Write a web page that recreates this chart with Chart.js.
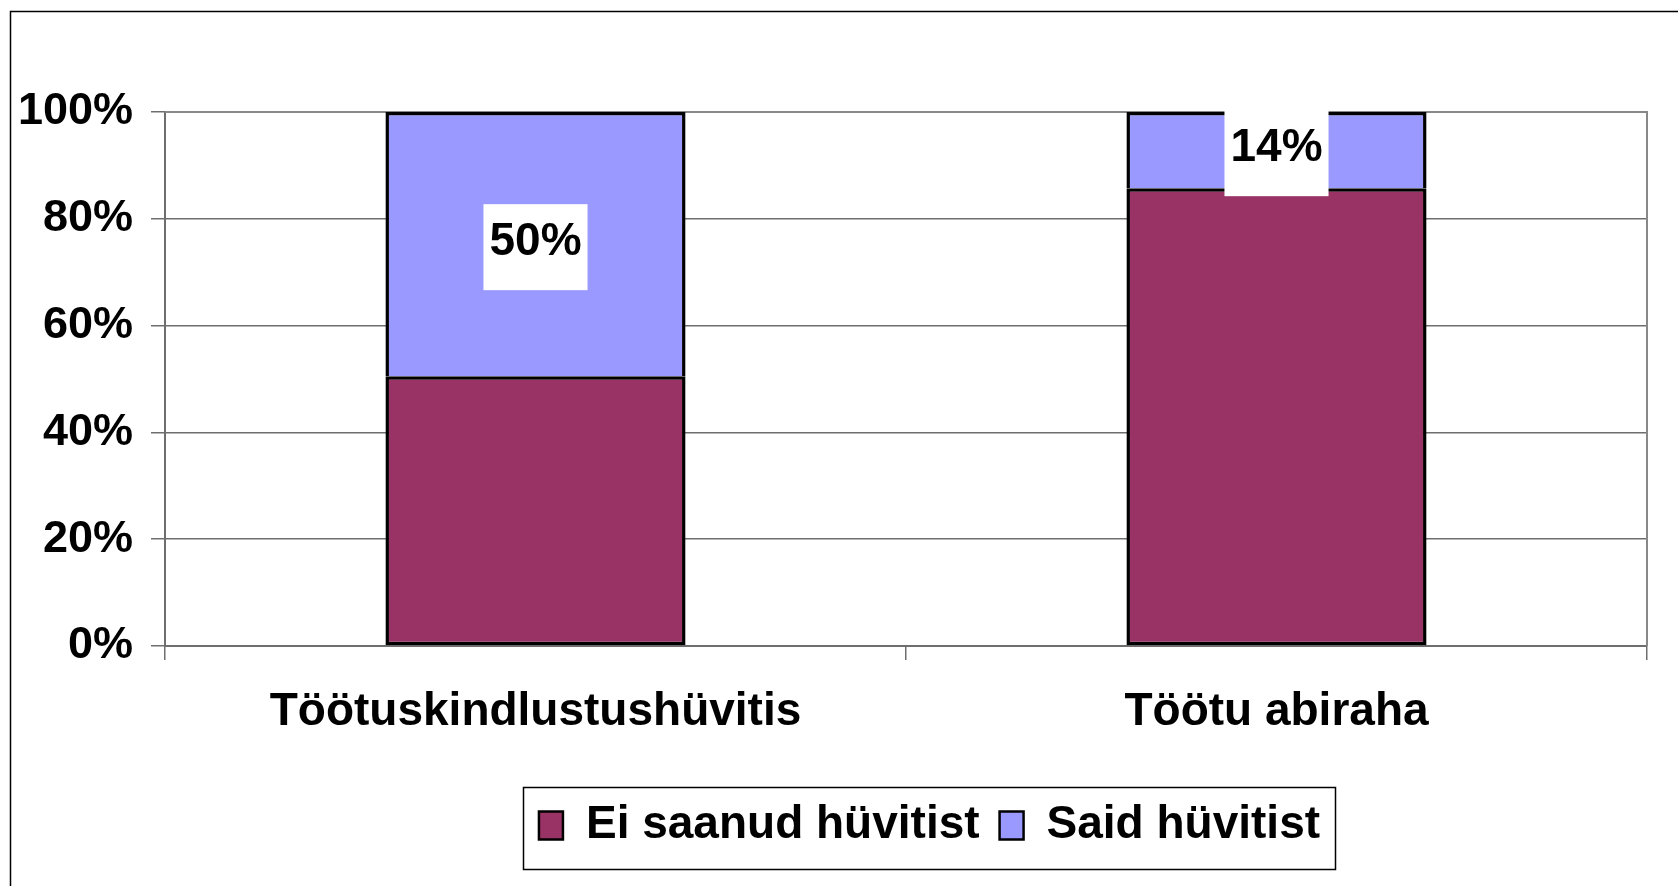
<!DOCTYPE html>
<html><head><meta charset="utf-8">
<script src="https://cdn.jsdelivr.net/npm/chart.js@4.4.1/dist/chart.umd.min.js"></script>
<style>html,body{margin:0;padding:0;background:#fff;} canvas{display:block;}</style>
</head><body>
<canvas id="c" width="1678" height="886"></canvas>
<script>
const categories = ['Töötuskindlustushüvitis', 'Töötu abiraha'];
const seriesNames = ['Ei saanud hüvitist', 'Said hüvitist'];
const eiSaanud = [50.5, 85.7];
const saidHuvitist = [49.5, 14.3];
const yTicks = [0, 20, 40, 60, 80, 100];

const FONT = '"Liberation Sans", Arial, Helvetica, sans-serif';
const colEi = '#993366';
const colSaid = '#9999FF';
const gridCol = '#6e6e6e';
const legendShift = 212;

const framePlugin = {
  id: 'frame',
  beforeDraw(chart) {
    const ctx = chart.ctx;
    ctx.save();
    ctx.fillStyle = '#fff';
    ctx.fillRect(0, 0, chart.width, chart.height);
    ctx.strokeStyle = '#000';
    ctx.lineWidth = 1.5;
    ctx.beginPath();
    ctx.moveTo(10.5, chart.height);
    ctx.lineTo(10.5, 11.5);
    ctx.lineTo(chart.width, 11.5);
    ctx.stroke();
    ctx.restore();
  },
  beforeDatasetsDraw(chart) {
    const a = chart.chartArea, ctx = chart.ctx;
    ctx.save();
    ctx.strokeStyle = '#888';
    ctx.lineWidth = 2;
    ctx.beginPath();
    ctx.moveTo(a.left, a.top);
    ctx.lineTo(a.right, a.top);
    ctx.lineTo(a.right, a.bottom);
    ctx.stroke();
    ctx.restore();
  },
  afterLayout(chart) {
    if (chart.legend) { chart.legend.left += legendShift; }
  },
  afterDraw(chart) {
    const hb = chart.legend && chart.legend.legendHitBoxes;
    if (!hb || !hb.length) return;
    let l = Infinity, r = -Infinity, t = Infinity, b = -Infinity;
    hb.forEach(h => { l = Math.min(l, h.left); r = Math.max(r, h.left + h.width); t = Math.min(t, h.top); b = Math.max(b, h.top + h.height); });
    const ctx = chart.ctx;
    ctx.save();
    ctx.strokeStyle = '#000';
    ctx.lineWidth = 1.5;
    ctx.strokeRect(Math.round(l - 16) + 0.5, Math.round(t - 16) + 0.5, Math.round(r - l + 31), Math.round(b - t + 36));
    ctx.restore();
  }
};

const labelPlugin = {
  id: 'segLabels',
  afterDatasetsDraw(chart) {
    const ctx = chart.ctx;
    const meta = chart.getDatasetMeta(1);
    const vals = chart.data.datasets[1].data;
    meta.data.forEach((bar, i) => {
      const txt = Math.round(vals[i]) + '%';
      const cx = bar.x;
      const cy = (bar.y + bar.base) / 2;
      ctx.save();
      ctx.font = 'bold 46px ' + FONT;
      const w = ctx.measureText(txt).width + 12;
      const h = 86;
      ctx.fillStyle = '#fff';
      ctx.fillRect(cx - w / 2, cy - h / 2 + 3, w, h);
      ctx.fillStyle = '#000';
      ctx.textAlign = 'center';
      ctx.textBaseline = 'middle';
      ctx.fillText(txt, cx, cy - 2);
      ctx.restore();
    });
  }
};

new Chart(document.getElementById('c'), {
  type: 'bar',
  data: {
    labels: categories,
    datasets: [
      { label: seriesNames[0], data: eiSaanud, backgroundColor: colEi, borderColor: '#000', borderWidth: 3.5, borderSkipped: false },
      { label: seriesNames[1], data: saidHuvitist, backgroundColor: colSaid, borderColor: '#000', borderWidth: { top: 3.5, left: 3.5, right: 3.5, bottom: 0 }, borderSkipped: false }
    ]
  },
  options: {
    responsive: false,
    animation: false,
    devicePixelRatio: 1,
    layout: { padding: { top: 112, right: 31, bottom: 27.5, left: 0 } },
    datasets: { bar: { categoryPercentage: 1, barPercentage: 0.405 } },
    scales: {
      x: {
        stacked: true,
        grid: { offset: true, drawOnChartArea: false, drawTicks: true, tickLength: 14, color: gridCol, lineWidth: 1.5 },
        border: { display: true, color: gridCol, width: 2 },
        ticks: { color: '#000', padding: 25, font: { family: FONT, size: 46, weight: 'bold' }, maxRotation: 0 },
        afterFit(s) { s.height = 136.5; }
      },
      y: {
        stacked: true,
        min: 0, max: 100,
        afterBuildTicks(s) { s.ticks = yTicks.map(v => ({ value: v })); },
        grid: { color: gridCol, lineWidth: 1.5, tickLength: 14 },
        border: { display: true, color: gridCol, width: 2 },
        ticks: { color: '#000', padding: 18, font: { family: FONT, size: 45, weight: 'bold' }, callback: v => v + '%' },
        afterFit(s) { s.width = 165; }
      }
    },
    plugins: {
      tooltip: { enabled: false },
      title: { display: false },
      legend: {
        position: 'bottom',
        labels: {
          boxWidth: 24, boxHeight: 28, padding: 20, color: '#000',
          font: { family: FONT, size: 46, weight: 'bold' },
          generateLabels(chart) {
            const items = Chart.defaults.plugins.legend.labels.generateLabels(chart);
            items.forEach(it => { it.lineWidth = 2.5; it.strokeStyle = '#000'; });
            return items;
          }
        }
      }
    }
  },
  plugins: [framePlugin, labelPlugin]
});
</script>
</body></html>
